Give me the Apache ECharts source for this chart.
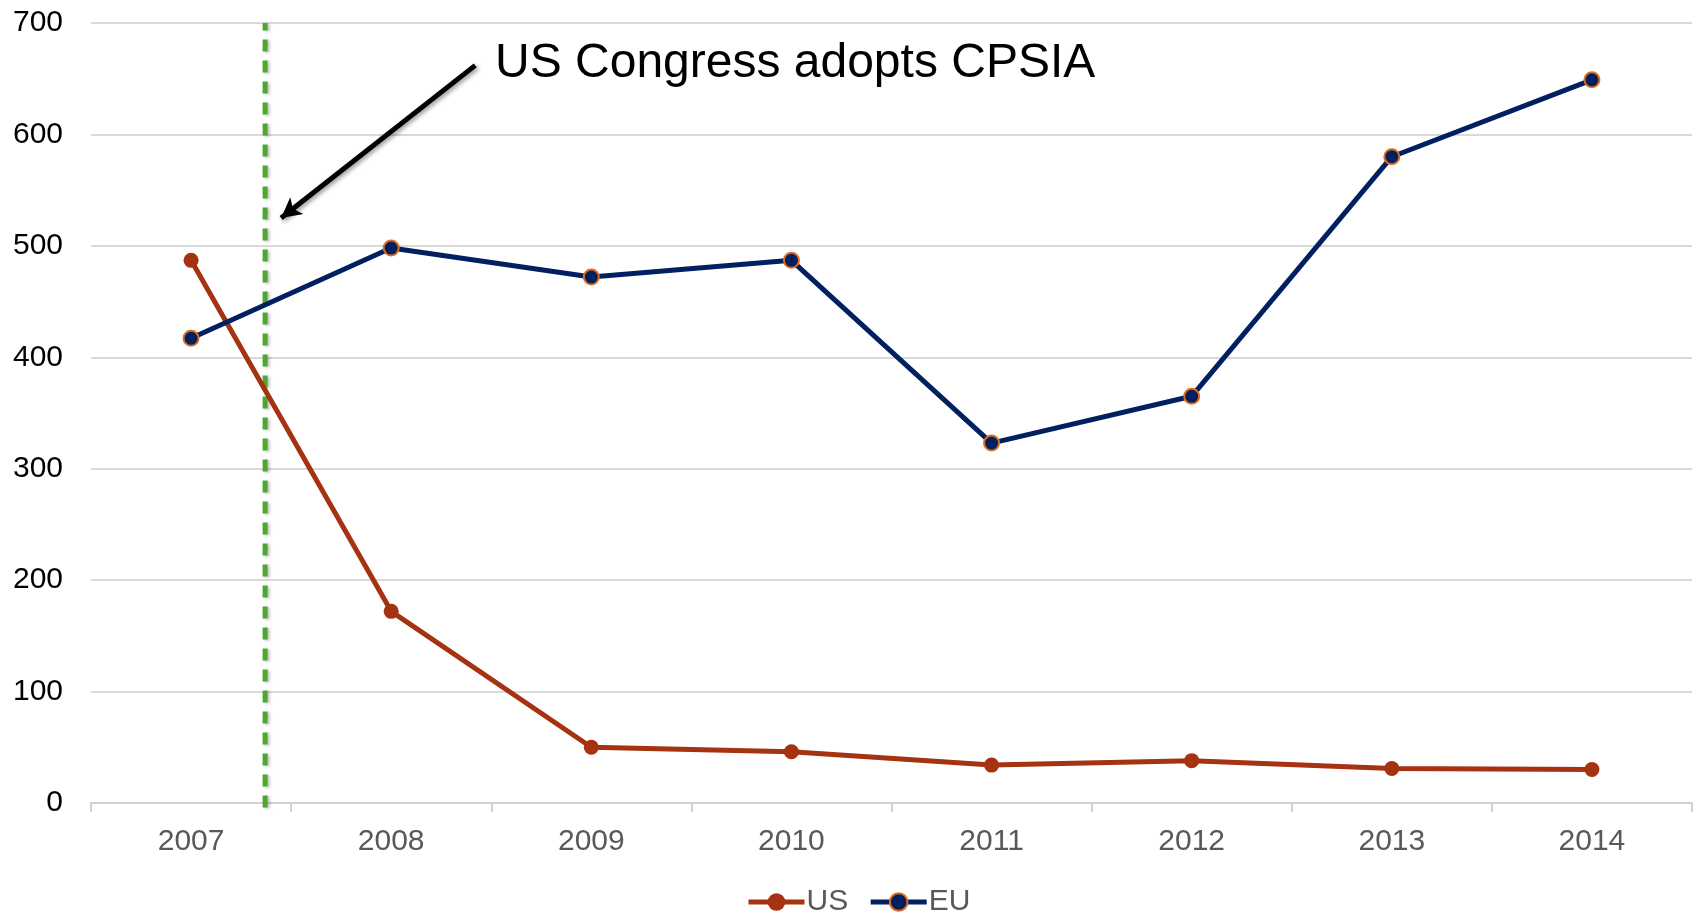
<!DOCTYPE html>
<html>
<head>
<meta charset="utf-8">
<title>US vs EU</title>
<script src="https://cdn.jsdelivr.net/npm/echarts@6/dist/echarts.min.js"></script>
<style>
  html, body { margin: 0; padding: 0; background: #fff; }
  #chart { width: 1696px; height: 916px; }
</style>
</head>
<body>
<div id="chart"></div>
<script>
// Yearly counts for the two regions
const years = ['2007', '2008', '2009', '2010', '2011', '2012', '2013', '2014'];
const usValues = [487, 172, 50, 46, 34, 38, 31, 30];
const euValues = [417, 498, 472, 487, 323, 365, 580, 649];
const yTicks = { min: 0, max: 700, interval: 100 };

// Event marker: position between 2007 and 2008 (category index units)
const eventX = 0.37;
const eventLabel = 'US Congress adopts CPSIA';
// Pointer arrow from the label down to the marker line, in [index, value]
const arrowFrom = [1.42, 662];
const arrowTo = [0.45, 525];

const FONT = '"Liberation Sans", Arial, sans-serif';
const US_COLOR = '#A53210';
const EU_COLOR = '#002060';
const EU_BORDER = '#E06A1E';

const chart = echarts.init(document.getElementById('chart'));

chart.setOption({
  animation: false,
  backgroundColor: '#ffffff',
  textStyle: { fontFamily: FONT },
  grid: { left: 91, right: 4, top: 23, bottom: 113 },
  legend: {
    data: ['US', 'EU'],
    left: 741,
    top: 882,
    itemWidth: 56,
    itemHeight: 22,
    itemGap: 20,
    lineStyle: { width: 5 },
    textStyle: { fontSize: 30, color: '#595959', fontFamily: FONT, padding: [0, 0, 0, -3] }
  },
  xAxis: [
    {
      type: 'category',
      data: years,
      boundaryGap: true,
      axisLine: { lineStyle: { color: '#d0d0d0', width: 2 } },
      axisTick: { show: true, length: 9, lineStyle: { color: '#d0d0d0', width: 2 } },
      axisLabel: { color: '#595959', fontSize: 30, margin: 24, fontFamily: FONT },
      splitLine: { show: false }
    },
    {
      type: 'value',
      min: -0.5,
      max: 7.5,
      show: false
    }
  ],
  yAxis: {
    type: 'value',
    min: yTicks.min,
    max: yTicks.max,
    interval: yTicks.interval,
    axisLine: { show: false },
    axisTick: { show: false },
    axisLabel: { color: '#000000', fontSize: 30, margin: 28, fontFamily: FONT },
    splitLine: { lineStyle: { color: '#d9d9d9', width: 2 } }
  },
  series: [
    {
      name: 'US',
      type: 'line',
      data: usValues,
      symbol: 'circle',
      symbolSize: 15,
      lineStyle: { color: US_COLOR, width: 5 },
      itemStyle: { color: US_COLOR },
      z: 3
    },
    {
      name: 'EU',
      type: 'line',
      data: euValues,
      symbol: 'circle',
      symbolSize: 15,
      lineStyle: { color: EU_COLOR, width: 5 },
      itemStyle: { color: EU_COLOR, borderColor: EU_BORDER, borderWidth: 2 },
      z: 4
    },
    {
      name: 'event',
      type: 'line',
      xAxisIndex: 1,
      data: [[eventX, -4], [eventX, yTicks.max]],
      symbol: 'none',
      clip: false,
      silent: true,
      lineStyle: {
        color: '#4EA72E',
        width: 5,
        type: [12, 9],
        shadowColor: 'rgba(0,0,0,0.25)',
        shadowBlur: 3,
        shadowOffsetX: 2,
        shadowOffsetY: 1
      },
      z: 2,
      markLine: {
        silent: true,
        symbol: ['none', 'arrow'],
        symbolSize: [16, 20],
        label: { show: false },
        lineStyle: {
          color: '#000000',
          width: 5,
          type: 'solid',
          shadowColor: 'rgba(0,0,0,0.4)',
          shadowBlur: 4,
          shadowOffsetX: 2,
          shadowOffsetY: 2
        },
        data: [[{ coord: arrowFrom }, { coord: arrowTo }]]
      }
    }
  ],
  graphic: [
    {
      type: 'text',
      left: 495,
      top: 40,
      style: {
        text: eventLabel,
        fontSize: 48,
        fontFamily: FONT,
        fill: '#000000'
      }
    }
  ]
});
</script>
</body>
</html>
